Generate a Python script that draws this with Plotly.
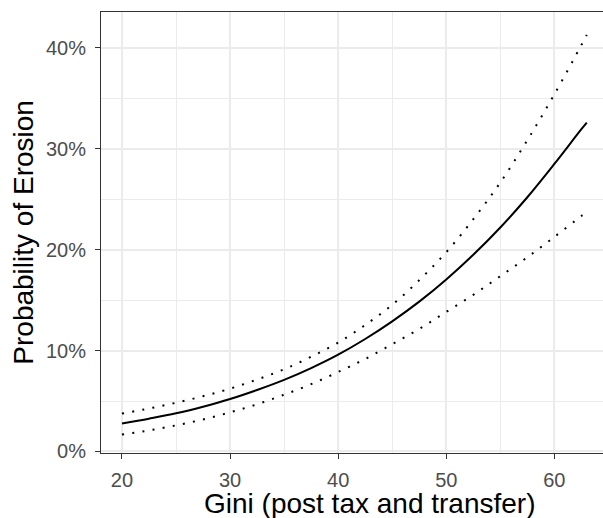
import plotly.graph_objects as go

# Data
gini = [20, 22.5, 25, 27.5, 30, 32.5, 35, 37.5, 40, 42.5, 45, 47.5, 50, 52.5, 55, 57.5, 60, 62.5, 63]
prob_fit = [2.77, 3.25, 3.78, 4.44, 5.2, 6.1, 7.1, 8.27, 9.6, 11.15, 12.9, 14.85, 17.05, 19.5, 22.2, 25.2, 28.5, 31.95, 32.6]
prob_upper = [3.76, 4.26, 4.83, 5.48, 6.23, 7.13, 8.15, 9.39, 10.79, 12.54, 14.53, 16.98, 19.75, 23.02, 26.66, 30.85, 35.39, 40.28, 41.29]
prob_lower = [1.68, 2.09, 2.59, 3.17, 3.88, 4.68, 5.63, 6.67, 7.88, 9.17, 10.63, 12.14, 13.84, 15.53, 17.38, 19.25, 21.27, 23.34, 23.77]

x_ticks = [20, 30, 40, 50, 60]
y_ticks = [0, 10, 20, 30, 40]
y_tick_labels = ["0%", "10%", "20%", "30%", "40%"]
x_title = "Gini (post tax and transfer)"
y_title = "Probability of Erosion"

FONT = "Liberation Sans, Arial, Helvetica, sans-serif"

fig = go.Figure()
dot_style = dict(color="black", width=2, dash="2px,8.3px", shape="spline")
fig.add_trace(go.Scatter(x=gini, y=prob_upper, mode="lines", line=dot_style, hoverinfo="skip"))
fig.add_trace(go.Scatter(x=gini, y=prob_lower, mode="lines", line=dot_style, hoverinfo="skip"))
fig.add_trace(go.Scatter(x=gini, y=prob_fit, mode="lines",
                         line=dict(color="black", width=2, shape="spline")))

fig.update_layout(
    width=603, height=518,
    margin=dict(l=101, r=0, t=12, b=65),
    paper_bgcolor="white", plot_bgcolor="white",
    showlegend=False,
    font=dict(family=FONT),
)
fig.add_annotation(
    text=x_title, xref="paper", yref="paper", x=0.535, y=0,
    xanchor="center", yanchor="top", yshift=-33, showarrow=False,
    font=dict(size=28, color="black"),
)
fig.add_annotation(
    text=y_title, xref="paper", yref="paper", x=-0.155, y=0.5,
    xanchor="center", yanchor="middle", textangle=-90, showarrow=False,
    font=dict(size=28, color="black"),
)
fig.update_xaxes(
    range=[18.06, 64.5],
    tickvals=x_ticks,
    ticks="outside", ticklen=5, tickwidth=1, tickcolor="#333333",
    tickfont=dict(size=20, color="#4D4D4D"), ticklabelstandoff=4,
    showline=True, linecolor="#333333", linewidth=1, mirror=True,
    showgrid=True, gridcolor="#EBEBEB", gridwidth=1.6,
    minor=dict(dtick=5, tick0=0, showgrid=True, gridcolor="#EBEBEB", gridwidth=0.8, ticks=""),
    zeroline=False, automargin=False,
)
fig.update_yaxes(
    range=[-0.15, 43.56],
    tickvals=y_ticks, ticktext=y_tick_labels,
    ticks="outside", ticklen=5, tickwidth=1, tickcolor="#333333",
    tickfont=dict(size=20, color="#4D4D4D"), ticklabelstandoff=5,
    showline=True, linecolor="#333333", linewidth=1, mirror=False,
    showgrid=True, gridcolor="#EBEBEB", gridwidth=1.6,
    minor=dict(dtick=5, tick0=0, showgrid=True, gridcolor="#EBEBEB", gridwidth=0.8, ticks=""),
    zeroline=False, automargin=False,
)

fig.write_html("out.html", config={"displayModeBar": False},
               post_script="document.body.style.margin='0';")
